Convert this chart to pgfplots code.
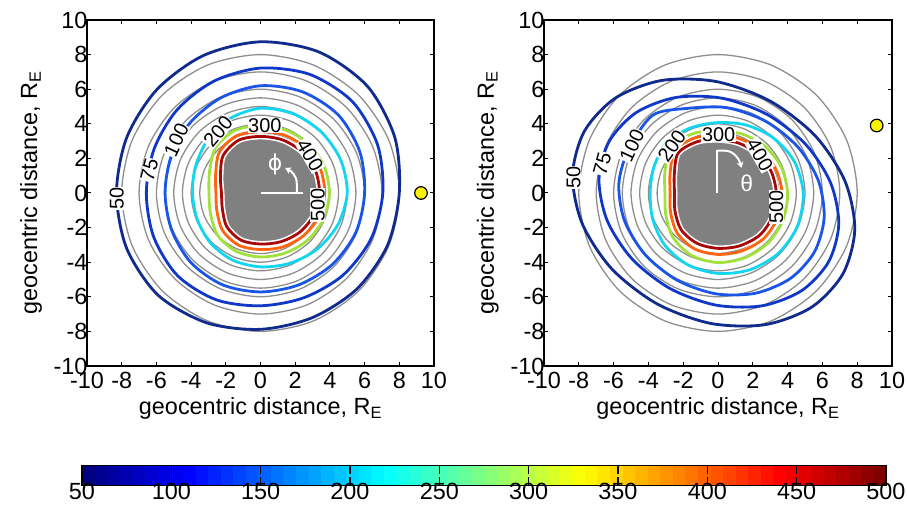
\documentclass[border=0pt]{standalone}
\usepackage{fontspec}
\setmainfont{Liberation Sans}
\newfontfamily\dejavu{DejaVu Sans}
\usepackage{pgfplots}
\usepackage{pgfplotstable}
\pgfplotsset{compat=1.18}
\usetikzlibrary{arrows.meta}

\definecolor{c50}{HTML}{102A8E}
\definecolor{c75}{HTML}{1038C8}
\definecolor{c100}{HTML}{1A55E8}
\definecolor{c200}{HTML}{12D6F0}
\definecolor{c300}{HTML}{A2E03C}
\definecolor{c400}{HTML}{FF6410}
\definecolor{c500}{HTML}{A80808}
\definecolor{ringgray}{HTML}{8E8E8E}
\definecolor{blobgray}{HTML}{808080}

% contour radius (R_E) against polar angle (deg)
\pgfplotstableread{
theta c50  c75  c100 c200 c300 c400 c500
0     8.00 7.05 6.00 5.00 3.97 3.70 3.40
22.5  8.38 7.30 6.20 5.00 3.98 3.72 3.42
45    8.72 7.48 6.36 4.97 3.96 3.68 3.38
67.5  8.82 7.42 6.33 4.95 3.92 3.62 3.32
90    8.74 7.22 6.20 4.90 3.90 3.55 3.27
112.5 8.60 7.00 5.96 4.65 3.90 3.58 3.30
135   8.45 6.80 5.74 4.32 3.68 3.35 3.05
157.5 8.35 6.64 5.57 4.05 3.18 2.80 2.50
180   8.30 6.58 5.50 3.92 2.97 2.57 2.25
202.5 8.35 6.66 5.55 3.95 3.12 2.72 2.38
225   8.35 6.76 5.68 4.08 3.48 3.08 2.75
247.5 8.12 6.68 5.74 4.20 3.65 3.27 2.95
270   7.88 6.52 5.72 4.27 3.70 3.27 2.95
292.5 7.80 6.55 5.75 4.40 3.75 3.37 3.05
315   7.85 6.72 5.85 4.60 3.85 3.50 3.20
337.5 7.92 6.90 5.95 4.82 3.93 3.63 3.33
}\phitab

\pgfplotstableread{
theta c200 c300 c400 c500
0     4.90 4.00 3.68 3.35
22.5  4.75 3.93 3.60 3.30
45    4.50 3.82 3.48 3.20
67.5  4.25 3.68 3.38 3.12
90    4.07 3.60 3.32 3.08
112.5 4.08 3.72 3.45 3.20
135   4.15 3.80 3.50 3.25
157.5 3.98 3.30 2.98 2.72
180   3.90 3.05 2.75 2.50
202.5 4.05 3.25 2.95 2.68
225   4.30 3.65 3.30 3.00
247.5 4.50 3.92 3.50 3.15
270   4.65 4.02 3.55 3.20
292.5 4.80 4.05 3.62 3.30
315   4.92 4.08 3.72 3.42
337.5 4.95 4.05 3.72 3.42
}\thetatab

% outer contours of the right panel, traced as x y points (R_E)
\pgfplotstableread{
x50   y50   x75   y75   x100  y100
-7.68  3.57 -6.25  2.99 -5.14  2.51
-8.36  1.01 -6.84  0.80 -5.70  0.53
-7.80 -1.78 -6.37 -1.59 -5.37 -1.61
-6.10 -4.39 -4.94 -3.81 -4.19 -3.56
-3.50 -6.41 -2.74 -5.53 -2.35 -5.04
-0.41 -7.54 -0.12 -6.48 -0.11 -5.83
 2.71 -7.61  2.53 -6.52  2.17 -5.79
 5.38 -6.60  4.80 -5.65  4.16 -4.94
 7.18 -4.67  6.35 -3.99  5.54 -3.41
 7.86 -2.11  6.94 -1.80  6.10 -1.43
 7.30  0.68  6.47  0.59  5.77  0.71
 5.60  3.29  5.04  2.81  4.59  2.66
 3.00  5.31  2.84  4.53  2.75  4.14
-0.09  6.44  0.22  5.48  0.51  4.93
-3.21  6.51 -2.43  5.52 -1.77  4.89
-5.88  5.50 -4.70  4.65 -3.76  4.49
}\thetaouter

% gray reference rings
\pgfplotstableread{
theta r35  r40  r45  r50  r55  r60  r70  r80
0     3.5  4.0  4.5  5.0  5.5  6.0  7.0  8.0
22.5  3.5  4.0  4.5  5.0  5.5  6.0  7.0  8.0
45    3.5  4.0  4.5  5.0  5.5  6.0  7.0  8.0
67.5  3.5  4.0  4.5  5.0  5.5  6.0  7.0  8.0
90    3.5  4.0  4.5  5.0  5.5  6.0  7.0  8.0
112.5 3.5  4.0  4.5  5.0  5.5  6.0  7.0  8.0
135   3.5  4.0  4.5  5.0  5.5  6.0  7.0  8.0
157.5 3.5  4.0  4.5  5.0  5.5  6.0  7.0  8.0
180   3.5  4.0  4.5  5.0  5.5  6.0  7.0  8.0
202.5 3.5  4.0  4.5  5.0  5.5  6.0  7.0  8.0
225   3.5  4.0  4.5  5.0  5.5  6.0  7.0  8.0
247.5 3.5  4.0  4.5  5.0  5.5  6.0  7.0  8.0
270   3.5  4.0  4.5  5.0  5.5  6.0  7.0  8.0
292.5 3.5  4.0  4.5  5.0  5.5  6.0  7.0  8.0
315   3.5  4.0  4.5  5.0  5.5  6.0  7.0  8.0
337.5 3.5  4.0  4.5  5.0  5.5  6.0  7.0  8.0
}\ringtab

\pgfplotsset{
  panel/.style={
    scale only axis, width=347bp, height=346bp,
    xmin=-10, xmax=10, ymin=-10, ymax=10,
    xtick={-10,-8,...,10}, ytick={-10,-8,...,10},
    tick align=inside, xtick pos=both, ytick pos=both,
    major tick length=4bp,
    axis line style={line width=1.2bp},
    tick style={black, line width=1bp},
    tick label style={font=\fontsize{23.5}{23.5}\selectfont},
    /pgf/number format/assume math mode=true,
    xticklabel style={yshift=-3bp},
    yticklabel style={xshift=4bp},
    label style={font=\fontsize{23.5}{27}\selectfont},
    xlabel={geocentric distance, R\textsubscript{E}},
    ylabel={geocentric distance, R\textsubscript{E}},
    xlabel style={at={(axis description cs:0.5,-0.1416)}, anchor=base},
    ylabel style={at={(axis description cs:-0.144,0.5)}, anchor=base},
    clip=false,
  },
  ring/.style={ringgray, line width=1.3bp, smooth cycle, data cs=polar},
  cont/.style={line width=2.8bp, smooth cycle, data cs=polar},
  contxy/.style={line width=2.8bp, smooth cycle},
}
\tikzset{lbl/.style={font=\fontsize{20}{20}\selectfont, fill=white, inner sep=0.6bp}}

\newcommand{\rings}{%
  \addplot[ring] table[x=theta, y=r35] {\ringtab};
  \addplot[ring] table[x=theta, y=r40] {\ringtab};
  \addplot[ring] table[x=theta, y=r45] {\ringtab};
  \addplot[ring] table[x=theta, y=r50] {\ringtab};
  \addplot[ring] table[x=theta, y=r55] {\ringtab};
  \addplot[ring] table[x=theta, y=r60] {\ringtab};
  \addplot[ring] table[x=theta, y=r70] {\ringtab};
  \addplot[ring] table[x=theta, y=r80] {\ringtab};
}
\newcommand{\inner}[1]{%
  \addplot[fill=blobgray, draw=none, smooth cycle, data cs=polar] table[x=theta, y=c500] {#1};
  \addplot[white, line width=6bp, smooth cycle, data cs=polar] table[x=theta, y=c500] {#1};
  \addplot[cont, c200] table[x=theta, y=c200] {#1};
  \addplot[cont, c300] table[x=theta, y=c300] {#1};
  \addplot[cont, c400] table[x=theta, y=c400] {#1};
  \addplot[cont, c500] table[x=theta, y=c500] {#1};
}

\begin{document}
\begin{tikzpicture}
\path[use as bounding box] (0,0) rectangle (907bp,505bp);

% left panel: equatorial view
\begin{axis}[panel, at={(87bp,139bp)}, anchor=south west]
\rings
\addplot[cont, c50]  table[x=theta, y=c50]  {\phitab};
\addplot[cont, c75]  table[x=theta, y=c75]  {\phitab};
\addplot[cont, c100] table[x=theta, y=c100] {\phitab};
\inner{\phitab}
\node[lbl, rotate=90]  at (axis cs:-8.28,-0.31) {50};
\node[lbl, rotate=75]  at (axis cs:-6.4,1.33)   {75};
\node[lbl, rotate=65]  at (axis cs:-4.85,3.06)  {100};
\node[lbl, rotate=50]  at (axis cs:-2.44,3.54)  {200};
\node[lbl]             at (axis cs:0.25,3.92)   {300};
\node[lbl, rotate=-60] at (axis cs:2.85,2.19)   {400};
\node[lbl, rotate=90]  at (axis cs:3.3,-0.69)   {500};
\draw[white, line width=2bp] (axis cs:0.05,0) -- (axis cs:2.47,0);
\draw[white, line width=2bp, -{Stealth[length=6bp,width=7bp]}]
  (axis cs:2.09,0) -- (axis cs:2.09,0.55)
  .. controls (axis cs:2.09,1.0) and (axis cs:1.8,1.25) .. (axis cs:1.42,1.45);
\node[white, font=\dejavu\fontsize{22}{22}\selectfont] at (axis cs:0.84,1.65) {ϕ};
\addplot[only marks, mark=*, mark size=6.3bp,
  mark options={fill=yellow, draw=black, line width=1.2bp}] coordinates {(9.25,0)};
\end{axis}

% right panel: meridional view
\begin{axis}[panel, at={(544bp,139bp)}, anchor=south west, width=348bp]
\rings
\addplot[contxy, c50]  table[x=x50,  y=y50]  {\thetaouter};
\addplot[contxy, c75]  table[x=x75,  y=y75]  {\thetaouter};
\addplot[contxy, c100] table[x=x100, y=y100] {\thetaouter};
\inner{\thetatab}
\node[lbl, rotate=90]  at (axis cs:-8.3,0.9)   {50};
\node[lbl, rotate=75]  at (axis cs:-6.65,1.7)  {75};
\node[lbl, rotate=65]  at (axis cs:-4.95,2.75) {100};
\node[lbl, rotate=55]  at (axis cs:-2.65,2.7)  {200};
\node[lbl]             at (axis cs:0.04,3.4)   {300};
\node[lbl, rotate=-60] at (axis cs:2.4,2.2)    {400};
\node[lbl, rotate=90]  at (axis cs:3.35,-0.8)  {500};
\draw[white, line width=2bp] (axis cs:-0.04,0) -- (axis cs:-0.04,2.49);
\draw[white, line width=2bp, -{Stealth[length=6bp,width=7bp]}]
  (axis cs:-0.04,2.45) -- (axis cs:0.35,2.45)
  .. controls (axis cs:0.9,2.45) and (axis cs:1.2,2.0) .. (axis cs:1.36,1.45);
\node[white, font=\fontsize{23}{23}\selectfont] at (axis cs:1.65,0.56) {θ};
\addplot[only marks, mark=*, mark size=6.3bp,
  mark options={fill=yellow, draw=black, line width=1.2bp}] coordinates {(9.12,3.9)};
\end{axis}

% colour bar
\begin{axis}[
  at={(82bp,27.7bp)}, anchor=south west,
  scale only axis, width=804bp, height=20.6bp,
  hide axis, xmin=0, xmax=1, ymin=0, ymax=1,
  colormap/jet,
  colormap={jetd}{samples of colormap=(64 of jet)},
  colormap access=piecewise constant,
  point meta min=50, point meta max=500,
  colorbar horizontal,
  colorbar style={
    at={(parent axis.south west)}, anchor=south west,
    scale only axis, width=804bp, height=20.6bp,
    axis on top,
    xtick={50,100,...,500},
    tick align=inside, xtick pos=both, xticklabel pos=lower,
    major tick length=9bp,
    tick style={black, line width=1.1bp},
    axis line style={line width=1.2bp},
    xticklabel style={font=\fontsize{23.5}{23.5}\selectfont, inner sep=1bp, yshift=4bp},
    /pgf/number format/assume math mode=true,
  },
]
\addplot[draw=none] coordinates {(0,0)};
\end{axis}
\end{tikzpicture}
\end{document}
